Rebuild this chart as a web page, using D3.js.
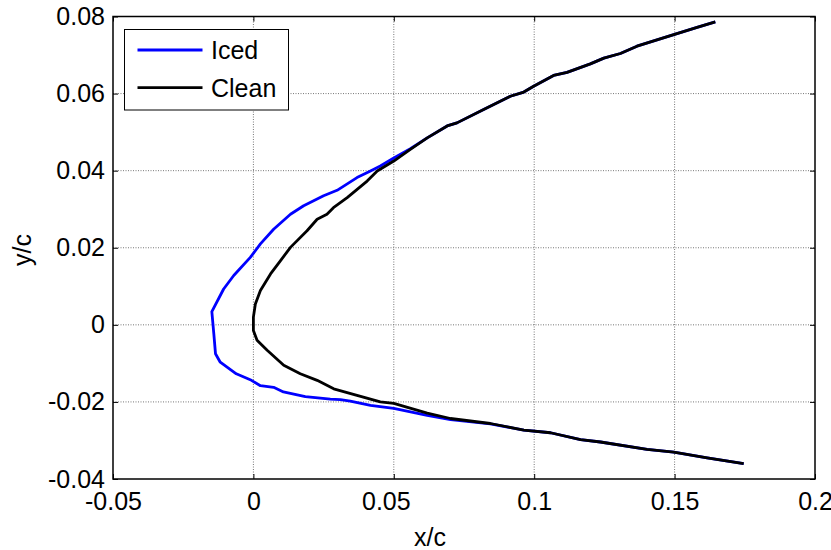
<!DOCTYPE html>
<html><head><meta charset="utf-8">
<script src="https://cdn.jsdelivr.net/npm/d3@7"></script>
<style>body{margin:0;background:#fff}svg{display:block}text{font-family:"Liberation Sans",Arial,sans-serif}</style>
</head><body>
<svg id="c" width="831" height="550"></svg>
<script>
const xTicks = [-0.05, 0, 0.05, 0.1, 0.15, 0.2];
const xTickLabels = ["-0.05", "0", "0.05", "0.1", "0.15", "0.2"];
const yTicks = [-0.04, -0.02, 0, 0.02, 0.04, 0.06, 0.08];
const yTickLabels = ["-0.04", "-0.02", "0", "0.02", "0.04", "0.06", "0.08"];
const seriesNames = ["Iced", "Clean"];

const cleanX = [0.1645,0.158,0.1497,0.1366,0.1307,0.1248,0.12,0.1117,0.1069,0.0998,0.0963,0.0915,0.082,0.0725,0.069,0.0619,0.0559,0.05,0.0441,0.0405,0.0334,0.0285,0.0262,0.0227,0.0191,0.0132,0.0096,0.0061,0.0025,0.0007,0.0,0.0,0.0013,0.0049,0.0108,0.0167,0.0227,0.0286,0.0369,0.0452,0.05,0.0619,0.0702,0.0844,0.0963,0.1058,0.1165,0.1236,0.1402,0.1497,0.1616,0.1746];
const cleanY = [0.0786,0.0772,0.0753,0.0723,0.0704,0.0692,0.0677,0.0655,0.0647,0.0619,0.0604,0.0593,0.0559,0.0524,0.0516,0.0485,0.0455,0.0425,0.0399,0.0373,0.033,0.0304,0.0287,0.0274,0.0244,0.0201,0.0166,0.0132,0.0089,0.0054,0.002,-0.0015,-0.004,-0.0066,-0.0105,-0.0127,-0.0144,-0.0166,-0.0183,-0.02,-0.0204,-0.0229,-0.0243,-0.0256,-0.0273,-0.028,-0.0298,-0.0304,-0.0323,-0.033,-0.0345,-0.036];

const icedX = [0.1645,0.158,0.1497,0.1366,0.1307,0.1248,0.12,0.1117,0.1069,0.0998,0.0963,0.0915,0.082,0.0725,0.069,0.0619,0.0559,0.05,0.0452,0.0417,0.0369,0.0298,0.025,0.0179,0.0132,0.0072,0.0025,-0.0011,-0.007,-0.0106,-0.0148,-0.0141,-0.0135,-0.0118,-0.0061,-0.0007,0.0025,0.0072,0.0107,0.0185,0.0274,0.031,0.0345,0.0417,0.05,0.0619,0.0702,0.0844,0.0963,0.1058,0.1165,0.1236,0.1402,0.1497,0.1616,0.1746];
const icedY = [0.0786,0.0772,0.0753,0.0723,0.0704,0.0692,0.0677,0.0655,0.0647,0.0619,0.0604,0.0593,0.0559,0.0524,0.0516,0.0485,0.0457,0.0433,0.0412,0.0399,0.0382,0.0349,0.0335,0.0309,0.0287,0.0248,0.021,0.0175,0.0128,0.0093,0.0034,-0.0023,-0.0075,-0.0097,-0.0127,-0.0144,-0.0158,-0.0162,-0.0174,-0.0186,-0.0193,-0.0194,-0.0198,-0.0209,-0.0217,-0.0235,-0.0246,-0.0257,-0.0273,-0.028,-0.0298,-0.0304,-0.0323,-0.033,-0.0345,-0.036];

const colors = ["#0000ff", "#000000"];
const L = 113, R = 815, T = 16.5, B = 479;
const svg = d3.select("#c");
const x = d3.scaleLinear().domain([-0.05, 0.2]).range([L, R]);
const y = d3.scaleLinear().domain([-0.04, 0.08]).range([B, T]);
const FS = 25;

// grid
const g = svg.append("g");
xTicks.slice(1, -1).forEach(t => g.append("line").attr("x1", x(t)).attr("x2", x(t)).attr("y1", T).attr("y2", B)
  .attr("stroke", "#777").attr("stroke-width", 1).attr("stroke-dasharray", "1,1.5"));
yTicks.slice(1, -1).forEach(t => g.append("line").attr("y1", y(t)).attr("y2", y(t)).attr("x1", L).attr("x2", R)
  .attr("stroke", "#777").attr("stroke-width", 1).attr("stroke-dasharray", "1,1.5"));

// data lines
const line = d3.line().x(d => x(d[0])).y(d => y(d[1]));
const series = [d3.zip(icedX, icedY), d3.zip(cleanX, cleanY)];
series.forEach((s, i) => svg.append("path").attr("d", line(s)).attr("fill", "none")
  .attr("stroke", colors[i]).attr("stroke-width", 2.8).attr("stroke-linejoin", "round"));

// axes (inner ticks, box)
const tl = 5;
const ax = svg.append("g");
ax.append("g").attr("transform", `translate(0,${B})`).call(d3.axisBottom(x).tickValues(xTicks).tickSizeInner(-tl).tickSizeOuter(0).tickFormat((d, i) => xTickLabels[i]));
ax.append("g").attr("transform", `translate(0,${T})`).call(d3.axisTop(x).tickValues(xTicks).tickSizeInner(-tl).tickSizeOuter(0).tickFormat(""));
ax.append("g").attr("transform", `translate(${L},0)`).call(d3.axisLeft(y).tickValues(yTicks).tickSizeInner(-tl).tickSizeOuter(0).tickFormat((d, i) => yTickLabels[i]));
ax.append("g").attr("transform", `translate(${R},0)`).call(d3.axisRight(y).tickValues(yTicks).tickSizeInner(-tl).tickSizeOuter(0).tickFormat(""));
ax.selectAll(".domain").remove();
ax.selectAll(".tick line").attr("stroke", "#000").attr("stroke-width", 1);
ax.selectAll("text").attr("font-size", FS).attr("font-family", "Liberation Sans, Arial, sans-serif").attr("fill", "#000");
ax.select("g").selectAll("text").attr("dy", null).attr("y", 31).attr("dominant-baseline", "auto");
ax.selectAll("g:nth-child(3) text").attr("x", -8);
svg.append("rect").attr("x", L).attr("y", T).attr("width", R - L).attr("height", B - T)
  .attr("fill", "none").attr("stroke", "#000").attr("stroke-width", 1.5);

// axis labels
svg.append("text").attr("x", 430).attr("y", 546).attr("text-anchor", "middle").attr("font-size", FS).text("x/c");
svg.append("text").attr("transform", "translate(31,250) rotate(-90)").attr("text-anchor", "middle").attr("font-size", FS).text("y/c");

// legend
const lg = svg.append("g");
lg.append("rect").attr("x", 124.5).attr("y", 29.5).attr("width", 164).attr("height", 80.5)
  .attr("fill", "#fff").attr("stroke", "#000").attr("stroke-width", 1);
const ly = [50, 87.7];
seriesNames.forEach((n, i) => {
  lg.append("line").attr("x1", 137.5).attr("x2", 202.5).attr("y1", ly[i]).attr("y2", ly[i])
    .attr("stroke", colors[i]).attr("stroke-width", 2.8);
  lg.append("text").attr("x", 211).attr("y", ly[i]).attr("dy", "0.36em").attr("font-size", FS).text(n);
});
</script>
</body></html>
